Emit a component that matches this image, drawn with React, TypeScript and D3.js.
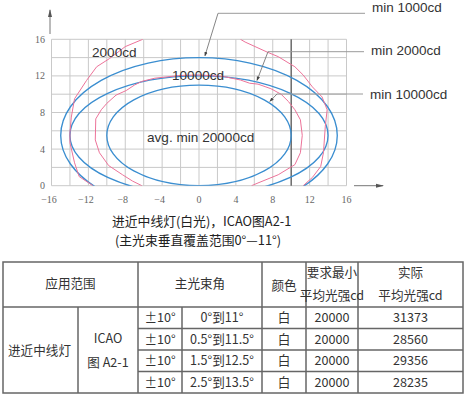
import React from "react";
import * as d3 from "d3";

// ---------- data ----------
const xTicks = [-16, -12, -8, -4, 0, 4, 8, 12, 16];
const yTicks = [0, 4, 8, 12, 16];
const gridX = d3.range(-16, 17, 2);
const gridY = d3.range(0, 17, 2);

// ICAO ellipses: semi-axis a (horizontal), b (vertical), centre elevation
const ellipseNames = ["min 1000cd", "min 2000cd", "min 10000cd"];
const ellipseA = [15, 14, 10];
const ellipseB = [8.5, 6.5, 5.5];
const ellipseCY = [5.5, 5.5, 5.5];

// measured curves (pink)
const outerLeft: [number, number][] = [
  [-6.1, 16], [-8.0, 15.2], [-9.7, 13.9], [-11.1, 13.0], [-12.2, 11.5], [-13.5, 9.5],
  [-13.85, 7.5], [-14.0, 5.8], [-14.0, 4.7], [-13.5, 2.5], [-13.0, 1.0], [-11.5, 0],
];
const outerRight: [number, number][] = [
  [4.5, 16], [5.0, 15.7], [7.4, 14.6], [8.6, 14.1], [9.9, 13.3], [10.4, 13.0], [11.3, 12.1],
  [12.3, 10.8], [13.35, 9.7], [13.9, 8.3], [13.7, 6.5], [13.5, 3.6], [13.2, 2.1], [12.3, 0.9], [11.3, 0],
];
const innerCurve: [number, number][] = [
  [-6.2, 0], [-7.2, 0.5], [-8.3, 1.2], [-9.8, 2.2], [-10.8, 3.6], [-11.25, 5.0], [-11.2, 7.3],
  [-10.6, 8.3], [-10.0, 9.0], [-9.0, 9.9], [-7.9, 10.4], [-7.0, 11.0], [-6.2, 11.4], [-4.8, 11.75],
  [-2, 12.05], [0, 12.1], [2.6, 11.95], [4.5, 11.55], [5.5, 11.2], [6.4, 11.1], [7.8, 10.6],
  [8.9, 10.0], [9.7, 9.2], [10.4, 8.3], [11.0, 7.2], [11.2, 5.5], [11.0, 3.6], [10.4, 2.3],
  [8.6, 1.2], [6.4, 0.3], [5.7, 0],
];

const captionLines = ["进近中线灯(白光)，ICAO图A2-1", "(主光束垂直覆盖范围0°—11°)"];

// table
const tableCols = [3, 78, 138, 182, 262, 306, 358, 463];
const angleRange = ["±10°", "±10°", "±10°", "±10°"];
const verticalRange = ["0°到11°", "0.5°到11.5°", "1.5°到12.5°", "2.5°到13.5°"];
const colours = ["白", "白", "白", "白"];
const required = ["20000", "20000", "20000", "20000"];
const actual = ["31373", "28560", "29356", "28235"];

// ---------- layout ----------
const W = 466, H = 397;
const x = d3.scaleLinear().domain([-16, 16]).range([51.5, 346.5]);
const y = d3.scaleLinear().domain([0, 16]).range([185.7, 39.3]);

const blue = "#3b8ed0";
const pink = "#ec7399";
const gridC = "#c9c9c9";
const sans = "'Liberation Sans', Arial, sans-serif";
const cjk = "'Noto Sans CJK SC', sans-serif";

const line = d3.line<[number, number]>().x((d) => x(d[0])).y((d) => y(d[1]));

function ellipseY(i: number, xv: number) {
  const a = ellipseA[i], b = ellipseB[i];
  return ellipseCY[i] + b * Math.sqrt(1 - (xv / a) ** 2);
}

// leaders: label anchor, elbow, target on ellipse
const leaderTargetX = [0.65, 6.3, 7.7];
const leaderElbow: [number, number][] = [[218, 13.3], [268, 51.7], [277, 94]];
const labelY = [11.5, 55, 99];
const labelX = [372, 371, 370];

export default function App() {
  const rowTop = 262, headBottom = 307, bottom = 393;
  const rowH = (bottom - headBottom) / 4;
  const rowYs = d3.range(5).map((i) => headBottom + i * rowH);
  const c = tableCols;
  const mid = (a: number, b: number) => (a + b) / 2;
  const tStyle = { fontFamily: cjk, fontSize: 12.6, fill: "#333" } as const;
  return (
    <div style={{ position: "absolute", left: 0, top: 0 }}>
      <svg width={W} height={H} style={{ display: "block", background: "#fff" }}>
        <defs>
          <clipPath id="plot">
            <rect x={x(-16)} y={y(16)} width={x(16) - x(-16)} height={y(0) - y(16)} />
          </clipPath>
          <marker id="arr" viewBox="0 0 6 6" refX="5" refY="3" markerWidth="5" markerHeight="5" orient="auto">
            <path d="M0,0.8 L6,3 L0,5.2 Z" fill="#444" />
          </marker>
          <marker id="axarr" viewBox="0 0 8 6" refX="7" refY="3" markerWidth="8" markerHeight="6" orient="auto" markerUnits="userSpaceOnUse">
            <path d="M0,1 L8,3 L0,5 Z" fill="#555" />
          </marker>
        </defs>

        {/* grid */}
        {gridX.map((v) => (
          <line key={"gx" + v} x1={x(v)} x2={x(v)} y1={y(0)} y2={y(16)} stroke={gridC} strokeWidth={1} />
        ))}
        {gridY.map((v) => (
          <line key={"gy" + v} x1={x(-16)} x2={x(16)} y1={y(v)} y2={y(v)} stroke={gridC} strokeWidth={1} />
        ))}
        <line x1={x(10)} x2={x(10)} y1={y(0)} y2={y(16)} stroke="#555" strokeWidth={1.2} />

        {/* axis arrows */}
        <line x1={x(-16) - 1.5} x2={x(-16) - 1.5} y1={34} y2={10} stroke="#777" strokeWidth={1} markerEnd="url(#axarr)" />
        <line x1={354} x2={383} y1={y(0)} y2={y(0)} stroke="#777" strokeWidth={1} markerEnd="url(#axarr)" />

        {/* tick labels */}
        {xTicks.map((v) => (
          <text key={"xt" + v} x={x(v) - (v < 0 ? 2.5 : 0)} y={203} textAnchor="middle"
            style={{ fontFamily: "'Liberation Serif', serif", fontSize: 10, fill: "#666" }}>
            {v < 0 ? "\u2212" + Math.abs(v) : v}
          </text>
        ))}
        {yTicks.map((v) => (
          <text key={"yt" + v} x={45} y={y(v) + 3.5} textAnchor="end"
            style={{ fontFamily: "'Liberation Serif', serif", fontSize: 10, fill: "#666" }}>
            {v}
          </text>
        ))}

        <g clipPath="url(#plot)">
          {ellipseA.map((a, i) => (
            <ellipse key={"el" + i} cx={x(0)} cy={y(ellipseCY[i])} rx={x(a) - x(0)} ry={y(0) - y(ellipseB[i])}
              fill="none" stroke={blue} strokeWidth={1.35} />
          ))}
          <path d={line(outerLeft) || ""} fill="none" stroke={pink} strokeWidth={1} />
          <path d={line(outerRight) || ""} fill="none" stroke={pink} strokeWidth={1} />
          <path d={line(innerCurve) || ""} fill="none" stroke={pink} strokeWidth={1} />
        </g>

        {/* in-plot labels */}
        <text x={92} y={57} style={{ fontFamily: sans, fontSize: 13.6, fill: "#333" }}>2000cd</text>
        <text x={172} y={80} style={{ fontFamily: sans, fontSize: 13.6, fill: "#333" }}>10000cd</text>
        <text x={147} y={142} style={{ fontFamily: sans, fontSize: 13.6, fill: "#333" }}>avg. min 20000cd</text>

        {/* leaders */}
        {ellipseNames.map((name, i) => {
          const tx = leaderTargetX[i];
          const ty = ellipseY(i, tx);
          const [ex, ey] = leaderElbow[i];
          return (
            <g key={"ld" + i}>
              <line x1={labelX[i] - 7} x2={ex} y1={ey} y2={ey} stroke="#9a9a9a" strokeWidth={1} />
              <line x1={ex} y1={ey} x2={x(tx)} y2={y(ty) - 2} stroke="#777" strokeWidth={0.9} markerEnd="url(#arr)" />
              <text x={labelX[i]} y={labelY[i]} style={{ fontFamily: sans, fontSize: 13.5, fill: "#333" }}>{name}</text>
            </g>
          );
        })}

        {/* caption */}
        <text x={112} y={226} style={{ fontFamily: cjk, fontSize: 12.8, fill: "#222" }}>{captionLines[0]}</text>
        <text x={115} y={245} style={{ fontFamily: cjk, fontSize: 12.8, fill: "#222" }}>{captionLines[1]}</text>

        {/* table */}
        <g>
          <rect x={c[0]} y={rowTop} width={c[7] - c[0]} height={bottom - rowTop} fill="#fff" stroke="#666" strokeWidth={1.5} />
          <line x1={c[0]} x2={c[7]} y1={headBottom} y2={headBottom} stroke="#666" strokeWidth={1.5} />
          {rowYs.slice(1, 4).map((ry) => (
            <line key={"r" + ry} x1={c[2]} x2={c[7]} y1={ry} y2={ry} stroke="#666" strokeWidth={1.5} />
          ))}
          <line x1={c[1]} x2={c[1]} y1={headBottom} y2={bottom} stroke="#666" strokeWidth={1.5} />
          <line x1={c[2]} x2={c[2]} y1={rowTop} y2={bottom} stroke="#666" strokeWidth={1.5} />
          <line x1={c[3]} x2={c[3]} y1={headBottom} y2={bottom} stroke="#666" strokeWidth={1.5} />
          {[4, 5, 6].map((k) => (
            <line key={"vc" + k} x1={c[k]} x2={c[k]} y1={rowTop} y2={bottom} stroke="#666" strokeWidth={1.5} />
          ))}

          {/* header */}
          <text x={mid(c[0], c[2])} y={288} textAnchor="middle" style={tStyle}>应用范围</text>
          <text x={mid(c[2], c[4])} y={288} textAnchor="middle" style={tStyle}>主光束角</text>
          <text x={mid(c[4], c[5])} y={290} textAnchor="middle" style={tStyle}>颜色</text>
          <text textAnchor="middle" style={tStyle}>
            <tspan x={mid(c[5], c[6])} y={277}>要求最小</tspan>
            <tspan x={mid(c[5], c[6])} y={300}>平均光强cd</tspan>
          </text>
          <text textAnchor="middle" style={tStyle}>
            <tspan x={mid(c[6], c[7])} y={277}>实际</tspan>
            <tspan x={mid(c[6], c[7])} y={300}>平均光强cd</tspan>
          </text>

          <text x={mid(c[0], c[1]) - 1} y={355} textAnchor="middle" style={tStyle}>进近中线灯</text>
          <text textAnchor="middle" style={tStyle}>
            <tspan x={mid(c[1], c[2])} y={343}>ICAO</tspan>
            <tspan x={mid(c[1], c[2])} y={367}>图 A2-1</tspan>
          </text>

          {angleRange.map((v, i) => {
            const cy = mid(rowYs[i], rowYs[i + 1]) + 4.6;
            return (
              <g key={"row" + i}>
                <text x={mid(c[2], c[3])} y={cy} textAnchor="middle" style={tStyle}>{v}</text>
                <text x={mid(c[3], c[4])} y={cy} textAnchor="middle" style={tStyle}>{verticalRange[i]}</text>
                <text x={mid(c[4], c[5])} y={cy} textAnchor="middle" style={tStyle}>{colours[i]}</text>
                <text x={mid(c[5], c[6])} y={cy} textAnchor="middle" style={tStyle}>{required[i]}</text>
                <text x={mid(c[6], c[7])} y={cy} textAnchor="middle" style={tStyle}>{actual[i]}</text>
              </g>
            );
          })}
        </g>
      </svg>
    </div>
  );
}
